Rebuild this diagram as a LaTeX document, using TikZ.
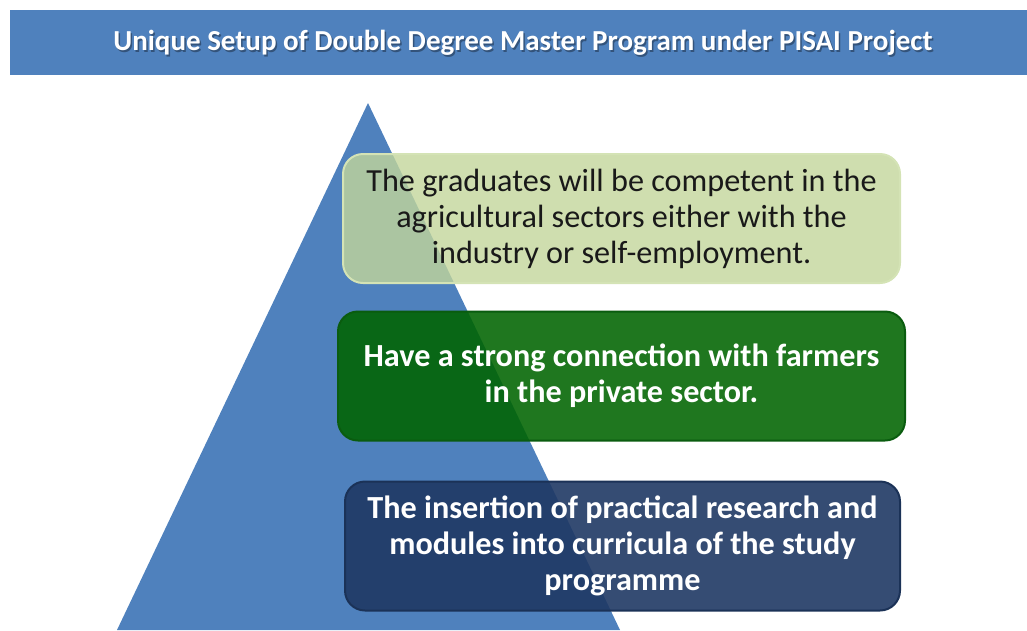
\documentclass[tikz,border=0pt]{standalone}
\usepackage{fontspec}
\setmainfont{Carlito}
\definecolor{pisaiblue}{HTML}{4F81BD}
\definecolor{olivefill}{HTML}{C3D69B}
\definecolor{olivedraw}{HTML}{D4E3B5}
\definecolor{farmgreen}{HTML}{006400}
\definecolor{farmdraw}{HTML}{0A5C0F}
\definecolor{navyfill}{HTML}{1F3864}
\definecolor{navydraw}{HTML}{1B3257}

\begin{document}
\begin{tikzpicture}[x=1pt, y=-1pt,
    layer/.style={rounded corners=20pt, line width=2pt, align=center,
      minimum width=557pt, minimum height=129pt, inner sep=0pt,
      text opacity=1, font=\fontsize{32.2}{36}\selectfont},
    headline/.style={font=\fontsize{29}{34}\selectfont\bfseries}]
    \useasboundingbox (0,0) rectangle (1027,630);
    % Title bar
    \fill[pisaiblue] (10,10) rectangle (1027,75);
    \node[headline, text=black, opacity=0.35] (titleshadow) at (524.5,44.5)
    {Unique Setup of Double Degree Master Program under PISAI Project};
    \node[headline, text=white] (title) at (523,43)
    {Unique Setup of Double Degree Master Program under PISAI Project};
    % Pyramid
    \fill[pisaiblue] (368,103) -- (620,630) -- (117,630) -- cycle;
    % Layers
    \node[layer, fill=olivefill, draw=olivedraw, fill opacity=0.8,
      text=black!90] (graduates) at (621.5,218.5)
    {The graduates will be competent in the\\
      agricultural sectors either with the\\
      industry or self-employment.};
    \node[layer, fill=farmgreen, draw=farmdraw, fill opacity=0.88,
      text=white, minimum width=567pt, font=\fontsize{32.2}{36}\selectfont\bfseries]
    (farmers) at (621.5,376)
    {Have a strong connection with farmers\\
      in the private sector.};
    \node[layer, fill=navyfill, draw=navydraw, fill opacity=0.9,
      text=white, minimum width=555pt, font=\fontsize{32.2}{36}\selectfont\bfseries]
    (modules) at (622.5,546)
    {The insertion of practical research and\\
      modules into curricula of the study\\
      programme};
  \end{tikzpicture}
\end{document}
